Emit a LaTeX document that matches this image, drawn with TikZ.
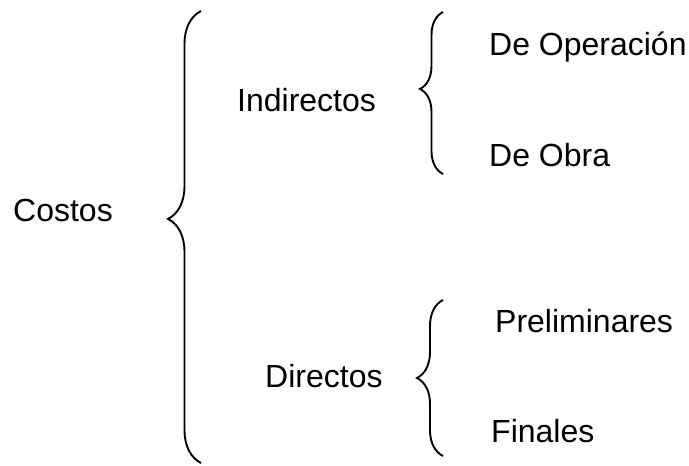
\documentclass[tikz,border=0pt]{standalone}
\usepackage{fontspec}
\setmainfont{Liberation Sans}
\usepackage{tikz}
\usetikzlibrary{decorations.pathreplacing}

\begin{document}
\begin{tikzpicture}[x=1pt,y=-1pt,every node/.style={anchor=base west,inner sep=0pt,font=\fontsize{32}{38}\selectfont},llave/.style={line width=1.9pt,decorate,decoration={brace,amplitude=#1}}]
    \useasboundingbox (0,0) rectangle (689,466);
    %costos
    \node (costos) at (13,221) {Costos};
    \node (indirectos) at (237,111) {Indirectos};
    \node (directos) at (265,387) {Directos};
    \node (operacion) at (489,55) {De Operación};
    \node (obra) at (489,166) {De Obra};
    \node (preliminares) at (495,332) {Preliminares};
    \node (finales) at (491,442) {Finales};
    \coordinate (c1) at (201,463);
    \coordinate (c2) at (201,11);
    \coordinate (i1) at (443,174);
    \coordinate (i2) at (443,12);
    \coordinate (d1) at (443,456);
    \coordinate (d2) at (443,300);
    \draw[llave=33pt,decoration={aspect=0.54}] (c1) -- (c2);
    \draw[llave=23pt,decoration={aspect=0.525}] (i1) -- (i2);
    \draw[llave=26pt,decoration={aspect=0.5}] (d1) -- (d2);
\end{tikzpicture}
\end{document}
